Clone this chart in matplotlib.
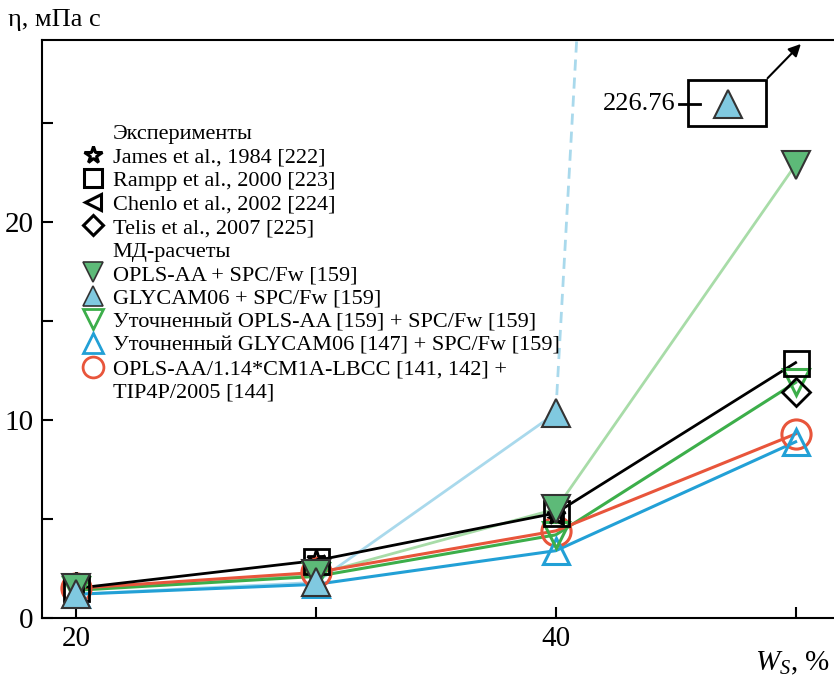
import matplotlib
matplotlib.use('Agg')
import matplotlib.pyplot as plt
from matplotlib.lines import Line2D

plt.rcParams['font.family'] = ['Liberation Serif', 'DejaVu Serif']
plt.rcParams['mathtext.fontset'] = 'custom'
plt.rcParams['mathtext.it'] = 'Liberation Serif:italic'
plt.rcParams['mathtext.rm'] = 'Liberation Serif'

# W_S, %
ws = [20, 30, 40, 50]

# experiments
james = [1.8, 3.0, 5.2]          # at 20, 30, 40
rampp = [1.5, 2.9, 5.3, 12.9]    # at 20, 30, 40, 50
chenlo = [1.7, 2.8, 5.1]         # at 20, 30, 40
telis_x = [50]
telis = [11.4]

# MD calculations
opls_fw = [1.5, 2.2, 5.5, 22.9]
glycam_fw = [1.2, 1.8, 10.35, 226.76]
opls_ref = [1.4, 2.1, 4.2, 11.9]
glycam_ref = [1.2, 1.7, 3.4, 8.9]
opls_cm1a = [1.5, 2.3, 4.4, 9.3]

labels = ['Эксперименты',
          'James et al., 1984 [222]',
          'Rampp et al., 2000 [223]',
          'Chenlo et al., 2002 [224]',
          'Telis et al., 2007 [225]',
          'МД-расчеты',
          'OPLS-AA + SPC/Fw [159]',
          'GLYCAM06 + SPC/Fw [159]',
          'Уточненный OPLS-AA [159] + SPC/Fw [159]',
          'Уточненный GLYCAM06 [147] + SPC/Fw [159]',
          'OPLS-AA/1.14*CM1A-LBCC [141, 142] +',
          'TIP4P/2005 [144]']

c_green_f = '#5dba78'
c_green_l = '#a8dca8'
c_blue_f = '#80c9e0'
c_blue_l = '#a9d9ec'
c_green = '#3cae4a'
c_blue = '#22a0d6'
c_red = '#e8553b'

fig = plt.figure(figsize=(8.34, 6.78), dpi=100)
ax = fig.add_axes([0.0504, 0.0885, 0.9496, 0.8525])

# lines
ax.plot(ws[:3], glycam_fw[:3], color=c_blue_l, lw=2, zorder=2)
ax.plot(ws[2:], glycam_fw[2:], color=c_blue_l, lw=2, ls=(0, (4, 2.5)), zorder=2)
ax.plot(ws, opls_fw, color=c_green_l, lw=2, zorder=2)
ax.plot(ws, glycam_ref, color=c_blue, lw=2.2, zorder=3)
ax.plot(ws, opls_ref, color=c_green, lw=2.2, zorder=3)
ax.plot(ws, opls_cm1a, color=c_red, lw=2.2, zorder=3)
ax.plot(ws, rampp, color='black', lw=2, zorder=3)

# markers
ax.plot(ws, opls_cm1a, 'o', ls='none', ms=21, mfc='none', mec=c_red, mew=2.2, zorder=4)
ax.plot(ws, glycam_ref, '^', ls='none', ms=19, mfc='none', mec=c_blue, mew=2.2, zorder=4)
ax.plot(ws, opls_ref, 'v', ls='none', ms=19, mfc='none', mec=c_green, mew=2.2, zorder=4)
ax.plot(ws, rampp, 's', ls='none', ms=18, mfc='none', mec='black', mew=2, zorder=5)
ax.plot(ws[:3], james, '*', ls='none', ms=14, mfc='none', mec='black', mew=2, zorder=5)
ax.plot(ws[:3], chenlo, '<', ls='none', ms=10, mfc='none', mec='black', mew=2, zorder=5)
ax.plot(telis_x, telis, 'D', ls='none', ms=14, mfc='none', mec='black', mew=2, zorder=5)
ax.plot(ws, opls_fw, 'v', ls='none', ms=20, mfc=c_green_f, mec='#333333', mew=1.5, zorder=6)
ax.plot(ws[:3], glycam_fw[:3], '^', ls='none', ms=20, mfc=c_blue_f, mec='#333333', mew=1.5, zorder=7)

# inset for the off-scale GLYCAM06 value
ax.add_patch(plt.Rectangle((45.5, 24.85), 3.25, 2.32, fill=False, ec='black', lw=2, zorder=8))
ax.plot([47.17], [25.96], '^', ms=20, mfc=c_blue_f, mec='#333333', mew=1.5, zorder=9)
ax.plot([45.15, 46.0], [25.96, 25.96], color='black', lw=2, zorder=9)
ax.text(45.0, 25.96, f'{glycam_fw[3]:.2f}', ha='right', va='center', fontsize=19)
ax.annotate('', xy=(50.3, 29.1), xytext=(48.75, 27.17),
            arrowprops=dict(arrowstyle='-|>', color='black', lw=1.5, mutation_scale=18),
            annotation_clip=False)

ax.set_xlim(18.58, 51.6)
ax.set_ylim(0, 29.2)
ax.set_xticks([20, 30, 40, 50])
ax.set_xticklabels(['20', '', '40', ''])
ax.set_yticks([0, 5, 10, 15, 20, 25])
ax.set_yticklabels(['0', '', '10', '', '20', ''])
ax.tick_params(direction='in', length=8, width=1.5, labelsize=21, pad=6)
ax.spines['right'].set_visible(False)
for s in ['left', 'bottom', 'top']:
    ax.spines[s].set_linewidth(1.5)

fig.text(0.01, 0.97, 'η, мПа с', fontsize=19, ha='left', va='center')
fig.text(0.995, 0.022, r'$W_S$, %', fontsize=21, ha='right', va='center')

# legend
blank = Line2D([], [], ls='none', marker='None')
handles = [blank,
           Line2D([], [], ls='none', marker='*', ms=13, mfc='none', mec='black', mew=2.2),
           Line2D([], [], ls='none', marker='s', ms=13, mfc='none', mec='black', mew=2.2),
           Line2D([], [], ls='none', marker='<', ms=11, mfc='none', mec='black', mew=2.2),
           Line2D([], [], ls='none', marker='D', ms=10, mfc='none', mec='black', mew=2.2),
           blank,
           Line2D([], [], ls='none', marker='v', ms=14, mfc=c_green_f, mec='#333333', mew=1.2),
           Line2D([], [], ls='none', marker='^', ms=14, mfc=c_blue_f, mec='#333333', mew=1.2),
           Line2D([], [], ls='none', marker='v', ms=14, mfc='none', mec=c_green, mew=2),
           Line2D([], [], ls='none', marker='^', ms=14, mfc='none', mec=c_blue, mew=2),
           Line2D([], [], ls='none', marker='o', ms=15, mfc='none', mec=c_red, mew=2),
           blank]
ax.legend(handles, labels, loc='upper left', bbox_to_anchor=(0.05, 0.856),
          frameon=False, fontsize=16, handlelength=1.0, handletextpad=0.4,
          labelspacing=0.135, borderaxespad=0, borderpad=0)

fig.savefig('out.png', dpi=100)
